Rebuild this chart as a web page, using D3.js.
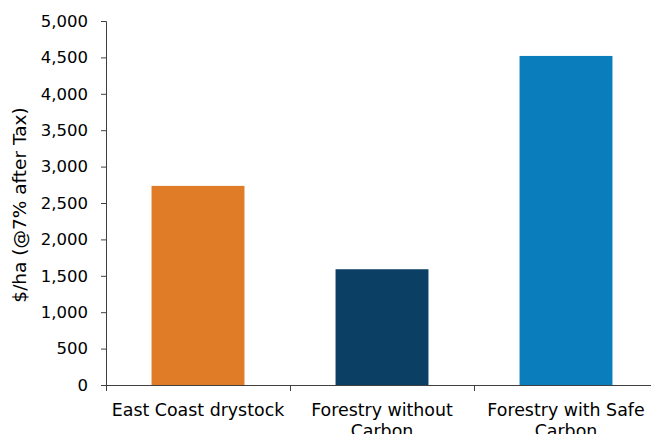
<!DOCTYPE html>
<html>
<head>
<meta charset="utf-8">
<script src="https://cdn.jsdelivr.net/npm/d3@7/dist/d3.min.js"></script>
<style>
  html, body { margin: 0; padding: 0; background: #fff; overflow: hidden; }
  svg { display: block; }
  text { font-family: "DejaVu Sans", Verdana, sans-serif; fill: #000; }
</style>
</head>
<body>
<svg id="chart" width="651" height="434"></svg>
<script>
// Returns per hectare, NPV at 7% after tax
const categories = [["East Coast drystock"], ["Forestry without", "Carbon"], ["Forestry with Safe", "Carbon"]];
const values = [2735, 1590, 4520];
const barColors = ["#E07B28", "#0B3F63", "#0A7DBD"];
const yTicks = [0, 500, 1000, 1500, 2000, 2500, 3000, 3500, 4000, 4500, 5000];
const yLabel = "$/ha (@7% after Tax)";

const svg = d3.select("#chart");
const plotLeft = 106, plotRight = 658, plotTop = 21, plotBottom = 385;

const x = d3.scaleBand()
  .domain(d3.range(categories.length))
  .range([plotLeft, plotRight])
  .paddingInner(0.495)
  .paddingOuter(0.2475);

const y = d3.scaleLinear().domain([0, 5000]).range([plotBottom, plotTop]);

// bars
svg.append("g").selectAll("rect")
  .data(values)
  .join("rect")
  .attr("x", (d, i) => x(i))
  .attr("y", d => y(d))
  .attr("width", x.bandwidth())
  .attr("height", d => y(0) - y(d))
  .attr("fill", (d, i) => barColors[i]);

// y axis
const yAxis = svg.append("g")
  .attr("transform", `translate(${plotLeft},0)`)
  .call(d3.axisLeft(y).tickValues(yTicks).tickFormat(d3.format(",")).tickSize(5).tickPadding(13));
yAxis.select(".domain").attr("stroke", "#404040");
yAxis.selectAll(".tick line").attr("stroke", "#404040");
yAxis.selectAll("text").style("font-size", "16.5px").attr("fill", "#000");

// x axis: baseline with ticks at category boundaries
const xg = svg.append("g");
xg.append("line")
  .attr("x1", plotLeft).attr("x2", plotRight)
  .attr("y1", y(0) + 0.5).attr("y2", y(0) + 0.5)
  .attr("stroke", "#404040");
const bounds = d3.range(categories.length).map(i => x(i) - (x.step() - x.bandwidth()) / 2);
xg.selectAll("line.tk")
  .data(bounds)
  .join("line")
  .attr("class", "tk")
  .attr("x1", d => d + 0.5).attr("x2", d => d + 0.5)
  .attr("y1", y(0)).attr("y2", y(0) + 6)
  .attr("stroke", "#404040");

// category labels
const labels = svg.append("g").selectAll("text")
  .data(categories)
  .join("text")
  .attr("x", (d, i) => x(i) + x.bandwidth() / 2)
  .attr("y", 416)
  .attr("text-anchor", "middle")
  .style("font-size", "17.4px");
labels.selectAll("tspan")
  .data(d => d)
  .join("tspan")
  .attr("x", function () { return d3.select(this.parentNode).attr("x"); })
  .attr("dy", (d, i) => i === 0 ? 0 : "1.2em")
  .text(d => d);

// y axis title
svg.append("text")
  .attr("transform", `translate(26,205) rotate(-90)`)
  .attr("text-anchor", "middle")
  .style("font-size", "18.5px")
  .text(yLabel);
</script>
</body>
</html>
